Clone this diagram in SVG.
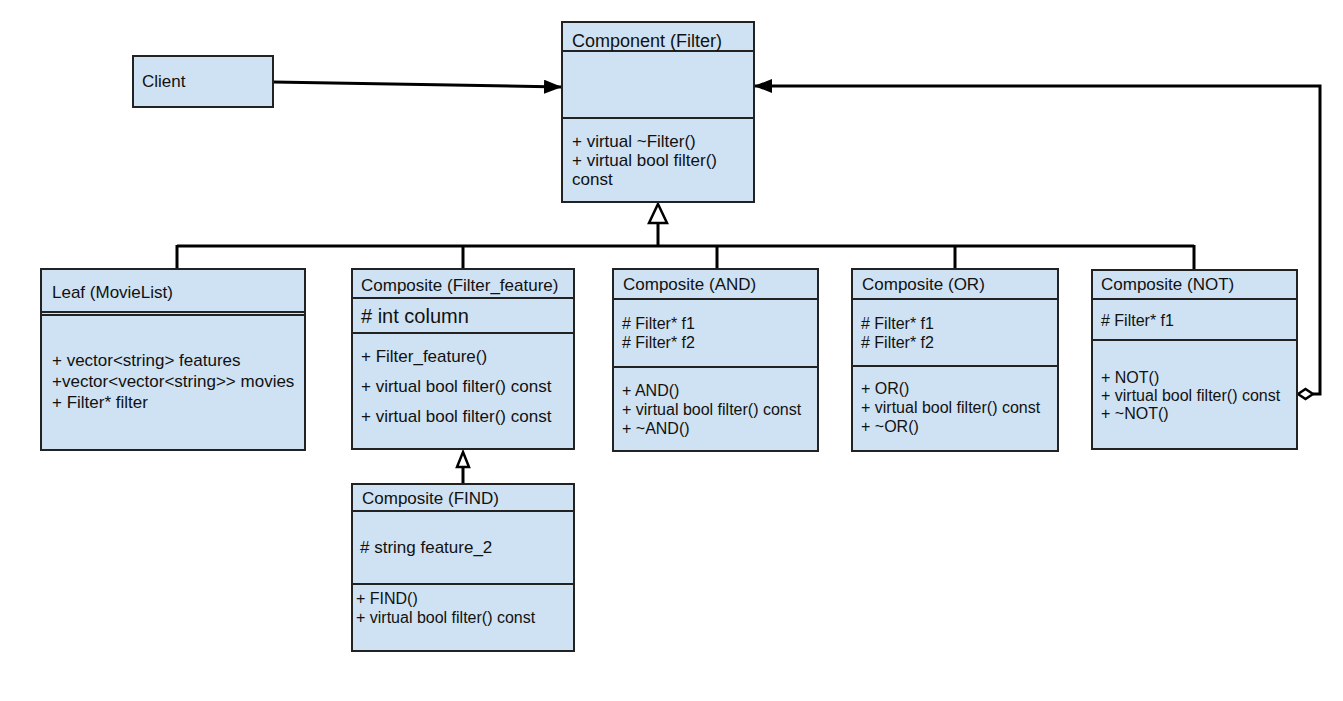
<svg xmlns="http://www.w3.org/2000/svg" width="1343" height="701" viewBox="0 0 1343 701">
<style>
  .box { fill: #cfe2f3; stroke: #222; stroke-width: 2; }
  .div { stroke: #222; stroke-width: 2; fill: none; }
  .conn { stroke: #000; stroke-width: 3; fill: none; }
  text { font-family: "Liberation Sans", Arial, sans-serif; fill: #111; font-size: 17px; }
  .t16 { font-size: 16px; }
  .t18 { font-size: 18px; }
  .t20 { font-size: 20px; }
</style>
<defs>
  <marker id="filled" viewBox="0 0 18 14" refX="18" refY="7" markerWidth="18" markerHeight="14" markerUnits="userSpaceOnUse" orient="auto">
    <path d="M0,0 L18,7 L0,14 Z" fill="#000"/>
  </marker>
</defs>
<rect width="1343" height="701" fill="#fff"/>

<g id="connectors">
  <path class="conn" d="M273,82 L562,87" marker-end="url(#filled)"/>
  <path class="conn" d="M1313,394 L1320,394 L1320,86 L754,86" marker-end="url(#filled)"/>
  <path class="conn" d="M658,224 L658,246"/>
  <path class="conn" d="M177,246 L1194,246"/>
  <path class="conn" d="M177,245 L177,269 M463,245 L463,269 M717,245 L717,269 M955,245 L955,269 M1194,245 L1194,269"/>
  <polygon points="658,204 667,223 649,223" fill="#fff" stroke="#000" stroke-width="2.5"/>
  <path class="conn" d="M463,467 L463,484"/>
  <polygon points="463,452 469,467 457,467" fill="#fff" stroke="#000" stroke-width="2.5"/>
  <polygon points="1298,394 1305.5,389 1313,394 1305.5,399" fill="#fff" stroke="#000" stroke-width="2.5"/>
</g>

<g id="client">
  <rect class="box" x="133" y="56" width="140" height="51"/>
  <text x="142" y="87">Client</text>
</g>

<g id="component">
  <rect class="box" x="562" y="22" width="192" height="180"/>
  <path class="div" d="M562,51 H754 M562,118 H754"/>
  <text class="t18" x="572" y="47">Component (Filter)</text>
  <text x="572" y="147">+ virtual ~Filter()</text>
  <text x="572" y="166">+ virtual bool filter()</text>
  <text x="572" y="185">const</text>
</g>

<g id="leaf">
  <rect class="box" x="41" y="269" width="264" height="181"/>
  <path class="div" d="M41,312 H305 M41,315 H305"/>
  <text x="52" y="298">Leaf (MovieList)</text>
  <text x="52" y="366">+ vector&lt;string&gt; features</text>
  <text x="52" y="387">+vector&lt;vector&lt;string&gt;&gt; movies</text>
  <text x="52" y="408">+ Filter* filter</text>
</g>

<g id="filter-feature">
  <rect class="box" x="352" y="269" width="222" height="180"/>
  <path class="div" d="M352,298 H574 M352,333 H574"/>
  <text x="361" y="291">Composite (Filter_feature)</text>
  <text class="t20" x="361" y="323"># int column</text>
  <text x="361" y="362">+ Filter_feature()</text>
  <text x="361" y="392">+ virtual bool filter() const</text>
  <text x="361" y="422">+ virtual bool filter() const</text>
</g>

<g id="find">
  <rect class="box" x="352" y="484" width="222" height="167"/>
  <path class="div" d="M352,511 H574 M352,584 H574"/>
  <text x="362" y="504">Composite (FIND)</text>
  <text x="360" y="553"># string feature_2</text>
  <text class="t16" x="356" y="604">+ FIND()</text>
  <text class="t16" x="356" y="623">+ virtual bool filter() const</text>
</g>

<g id="and">
  <rect class="box" x="613" y="269" width="205" height="182"/>
  <path class="div" d="M613,299 H818 M613,367 H818"/>
  <text x="623" y="290">Composite (AND)</text>
  <text class="t16" x="622" y="329"># Filter* f1</text>
  <text class="t16" x="622" y="348"># Filter* f2</text>
  <text class="t16" x="622" y="396">+ AND()</text>
  <text class="t16" x="622" y="415">+ virtual bool filter() const</text>
  <text class="t16" x="622" y="434">+ ~AND()</text>
</g>

<g id="or">
  <rect class="box" x="852" y="269" width="206" height="182"/>
  <path class="div" d="M852,299 H1058 M852,366 H1058"/>
  <text x="862" y="290">Composite (OR)</text>
  <text class="t16" x="861" y="329"># Filter* f1</text>
  <text class="t16" x="861" y="348"># Filter* f2</text>
  <text class="t16" x="861" y="394">+ OR()</text>
  <text class="t16" x="861" y="413">+ virtual bool filter() const</text>
  <text class="t16" x="861" y="432">+ ~OR()</text>
</g>

<g id="not">
  <rect class="box" x="1092" y="270" width="205" height="179"/>
  <path class="div" d="M1092,299 H1297 M1092,340 H1297"/>
  <text x="1101" y="290">Composite (NOT)</text>
  <text class="t16" x="1101" y="326"># Filter* f1</text>
  <text class="t16" x="1101" y="383">+ NOT()</text>
  <text class="t16" x="1101" y="401">+ virtual bool filter() const</text>
  <text class="t16" x="1101" y="419">+ ~NOT()</text>
</g>
</svg>
